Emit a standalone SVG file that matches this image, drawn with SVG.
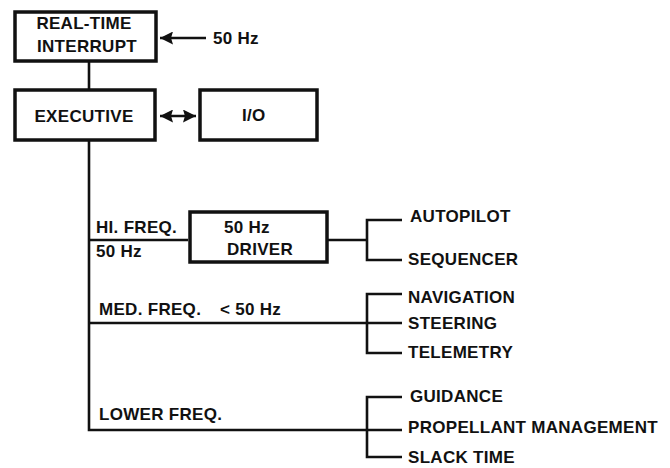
<svg xmlns="http://www.w3.org/2000/svg" width="670" height="468" viewBox="0 0 670 468">
<style>
text{font-family:"Liberation Sans",Arial,sans-serif;font-weight:bold;font-size:17px;fill:#111;letter-spacing:0.3px}
.box{fill:#fff;stroke:#111;stroke-width:3.5}
.ln{fill:none;stroke:#111;stroke-width:2.6}
.mid{text-anchor:middle}
</style>
<defs>
<marker id="ah" viewBox="0 0 10 10" refX="10" refY="5" markerWidth="15" markerHeight="13" markerUnits="userSpaceOnUse" orient="auto-start-reverse">
<path d="M0,0 L10,5 L0,10 L1.5,5 Z" fill="#111"/>
</marker>
</defs>
<rect width="670" height="468" fill="#fff"/>
<g id="connectors">
<line class="ln" x1="89" y1="62" x2="89" y2="90"/>
<line class="ln" x1="206" y1="38" x2="160" y2="38" marker-end="url(#ah)"/>
<line class="ln" x1="160" y1="116" x2="196" y2="116" marker-start="url(#ah)" marker-end="url(#ah)"/>
<polyline class="ln" points="89,141 89,430 367,430"/>
<line class="ln" x1="89" y1="240" x2="188" y2="240"/>
<line class="ln" x1="89" y1="323" x2="367" y2="323"/>
<line class="ln" x1="328" y1="240" x2="367" y2="240"/>
<polyline class="ln" points="402,220 367,220 367,260 402,260"/>
<polyline class="ln" points="402,294 367,294 367,353 402,353"/>
<line class="ln" x1="367" y1="323" x2="402" y2="323"/>
<polyline class="ln" points="402,397 367,397 367,457 402,457"/>
<line class="ln" x1="367" y1="430" x2="402" y2="430"/>
</g>
<g id="realtime">
<rect class="box" x="15" y="12" width="141" height="49"/>
<text class="mid" x="84" y="29">REAL-TIME</text>
<text class="mid" x="87" y="52">INTERRUPT</text>
</g>
<g id="hz50"><text x="213" y="44">50 Hz</text></g>
<g id="executive">
<rect class="box" x="15" y="90" width="140" height="50"/>
<text class="mid" x="84" y="122">EXECUTIVE</text>
</g>
<g id="io">
<rect class="box" x="200" y="90" width="117" height="50"/>
<text x="242" y="121">I/O</text>
</g>
<g id="hifreq">
<text x="96" y="233">HI. FREQ.</text>
<text x="96" y="257">50 Hz</text>
</g>
<g id="driver">
<rect class="box" x="190" y="212" width="137" height="50"/>
<text x="224" y="233">50 Hz</text>
<text x="227" y="255">DRIVER</text>
</g>
<g id="autopilot"><text x="410" y="222">AUTOPILOT</text></g>
<g id="sequencer"><text x="408" y="265">SEQUENCER</text></g>
<g id="medfreq"><text x="99" y="315">MED. FREQ.</text><text x="220" y="315">&lt; 50 Hz</text></g>
<g id="navigation"><text x="408" y="303">NAVIGATION</text></g>
<g id="steering"><text x="408" y="329">STEERING</text></g>
<g id="telemetry"><text x="408" y="358">TELEMETRY</text></g>
<g id="lowerfreq"><text x="99" y="420">LOWER FREQ.</text></g>
<g id="guidance"><text x="410" y="402">GUIDANCE</text></g>
<g id="propellant"><text x="408" y="433">PROPELLANT MANAGEMENT</text></g>
<g id="slack"><text x="408" y="463">SLACK TIME</text></g>
</svg>
